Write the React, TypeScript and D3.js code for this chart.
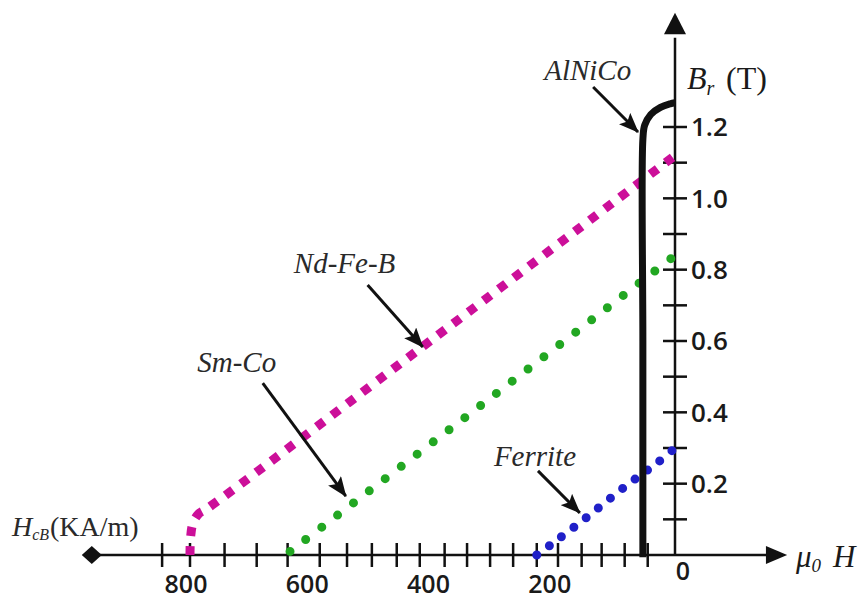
import React, { useEffect, useRef } from 'react';
import * as d3 from 'd3';

// demagnetisation curves: H in kA/m (drawn to the left), B in T
const ndfebH = [800, 799, 795, 786, 772, 400, 0];
const ndfebB = [0, 0.05, 0.09, 0.115, 0.13, 0.605, 1.12];
const smcoH = [635, 320, 0];
const smcoB = [0.01, 0.42, 0.84];
const ferriteH = [228, 200, 150, 80, 28, 0];
const ferriteB = [0, 0.035, 0.1, 0.195, 0.26, 0.3];
const alnicoH = [53, 53, 53, 50, 40, 24, 8, 0];
const alnicoB = [-0.006, 0.6, 1.165, 1.205, 1.235, 1.255, 1.265, 1.268];

// axis ticks
const xTickLabels = [800, 600, 400, 200];
const xMinorTicks = [45, 83, 121, 154, 193, 228, 267, 305, 343, 380, 421, 459, 500, 541, 586, 639, 690, 743, 800, 846];
const yTickLabels = [0.2, 0.4, 0.6, 0.8, 1.0, 1.2];
const yMinorTicks = [0.1, 0.2, 0.3, 0.4, 0.5, 0.6, 0.7, 0.8, 0.9, 1.0, 1.1, 1.2];

// annotations (label + arrow), in data units
const labels = ['Nd-Fe-B', 'Sm-Co', 'Ferrite', 'AlNiCo'];
const labelH = [545, 723, 231, 144];
const labelB = [0.79, 0.513, 0.25, 1.332];
const arrowFromH = [507, 680, 226, 135];
const arrowFromB = [0.757, 0.482, 0.236, 1.312];
const arrowToH = [416, 543, 157, 61];
const arrowToB = [0.583, 0.165, 0.118, 1.186];

const MagnetCurves = () => {
  const svgRef = useRef<SVGSVGElement>(null);

  useEffect(() => {
    const width = 867;
    const height = 602;
    const svg = d3.select(svgRef.current).attr('width', width).attr('height', height);
    svg.selectAll('*').remove();

    // H grows to the left, origin on the right
    const x = d3.scaleLinear().domain([0, 800]).range([675, 190]);
    const y = d3.scaleLinear().domain([0, 1.2]).range([555, 127]);
    const x0 = x(0);
    const y0 = y(0);

    const serif = '"Liberation Serif", "DejaVu Serif", serif';
    const sans = '"Open Sans", "Noto Sans", sans-serif';

    const defs = svg.append('defs');
    defs.append('marker')
      .attr('id', 'head')
      .attr('markerUnits', 'userSpaceOnUse')
      .attr('viewBox', '0 0 20 16')
      .attr('markerWidth', 20)
      .attr('markerHeight', 16)
      .attr('refX', 19)
      .attr('refY', 8)
      .attr('orient', 'auto')
      .append('path')
      .attr('d', 'M0,0 L20,8 L0,16 L4,8 Z')
      .attr('fill', '#111');

    // axes
    svg.append('line')
      .attr('x1', x(962)).attr('x2', x(-170))
      .attr('y1', y0).attr('y2', y0)
      .attr('stroke', '#111').attr('stroke-width', 2.5);
    svg.append('path')
      .attr('d', `M${x(-185)},${y0} L${x(-150)},${y0 - 9} L${x(-150)},${y0 + 9} Z`)
      .attr('fill', '#111');
    svg.append('path')
      .attr('d', `M${x(962) - 10},${y0} L${x(962)},${y0 - 9} L${x(962) + 10},${y0} L${x(962)},${y0 + 9} Z`)
      .attr('fill', '#111');

    svg.append('line')
      .attr('x1', x0).attr('x2', x0)
      .attr('y1', y0).attr('y2', y(1.45))
      .attr('stroke', '#111').attr('stroke-width', 2.5);
    svg.append('path')
      .attr('d', `M${x0},${y(1.52)} L${x0 - 11},${y(1.46)} L${x0 + 11},${y(1.46)} Z`)
      .attr('fill', '#111');

    svg.append('g').selectAll('line')
      .data(xMinorTicks)
      .join('line')
      .attr('x1', d => x(d)).attr('x2', d => x(d))
      .attr('y1', y0 - 12).attr('y2', y0 + 12)
      .attr('stroke', '#111').attr('stroke-width', 2.5);

    svg.append('g').selectAll('line')
      .data(yMinorTicks)
      .join('line')
      .attr('x1', x0 - 12).attr('x2', x0 + 12)
      .attr('y1', d => y(d)).attr('y2', d => y(d))
      .attr('stroke', '#111').attr('stroke-width', 2.5);

    svg.append('g').selectAll('text')
      .data(xTickLabels)
      .join('text')
      .attr('x', d => x(d) - 4)
      .attr('y', 593)
      .attr('text-anchor', 'middle')
      .attr('font-family', sans).attr('font-size', 25).attr('font-weight', 600)
      .attr('fill', '#1a1a1a')
      .text(d => d);
    svg.append('text')
      .attr('x', x0 + 8).attr('y', 580)
      .attr('text-anchor', 'middle')
      .attr('font-family', sans).attr('font-size', 25).attr('font-weight', 600)
      .attr('fill', '#1a1a1a')
      .text('0');

    svg.append('g').selectAll('text')
      .data(yTickLabels)
      .join('text')
      .attr('x', x0 + 16)
      .attr('y', d => y(d))
      .attr('dy', '0.36em')
      .attr('font-family', sans).attr('font-size', 26).attr('font-weight', 600)
      .attr('fill', '#1a1a1a')
      .text(d => d.toFixed(1));

    // axis titles
    const by = svg.append('text')
      .attr('x', 687).attr('y', 89)
      .attr('font-family', serif).attr('font-size', 32).attr('fill', '#1a1a1a');
    by.append('tspan').attr('font-style', 'italic').text('B');
    by.append('tspan').attr('font-style', 'italic').attr('font-size', 20).attr('dy', 6).text('r');
    by.append('tspan').attr('x', 726).attr('dy', -6).text('(T)');

    const mh = svg.append('text')
      .attr('x', 796).attr('y', 567)
      .attr('font-family', serif).attr('font-size', 31).attr('font-style', 'italic').attr('fill', '#1a1a1a');
    mh.append('tspan').text('μ');
    mh.append('tspan').attr('font-size', 19).attr('dy', 5).text('0');
    mh.append('tspan').attr('x', 833).attr('dy', -5).text('H');

    const hc = svg.append('text')
      .attr('x', 12).attr('y', 536)
      .attr('font-family', serif).attr('font-size', 28).attr('fill', '#2a2a2a');
    hc.append('tspan').attr('font-style', 'italic').text('H');
    hc.append('tspan').attr('font-style', 'italic').attr('font-size', 16).attr('dy', 4).text('cB');
    hc.append('tspan').attr('x', 50).attr('dy', -4).text('(KA/m)');

    // curves
    const line = d3.line<[number, number]>()
      .x(d => x(d[0]))
      .y(d => y(d[1]))
      .curve(d3.curveCatmullRom.alpha(0.5));

    const series = [
      { h: smcoH, b: smcoB, color: '#22a722', w: 9, dash: '0 20', cap: 'round' },
      { h: ferriteH, b: ferriteB, color: '#2020c8', w: 9, dash: '0 15.5', cap: 'round' },
      { h: ndfebH, b: ndfebB, color: '#cc0f99', w: 9, dash: '9 10', cap: 'butt' },
      { h: alnicoH, b: alnicoB, color: '#111', w: 7, dash: null, cap: 'butt' },
    ];

    svg.append('g').selectAll('path')
      .data(series)
      .join('path')
      .attr('d', s => line(s.h.map((v, i) => [v, s.b[i]] as [number, number])))
      .attr('fill', 'none')
      .attr('stroke', s => s.color)
      .attr('stroke-width', s => s.w)
      .attr('stroke-linecap', s => s.cap)
      .attr('stroke-dasharray', s => s.dash);

    // annotations
    svg.append('g').selectAll('line')
      .data(labels)
      .join('line')
      .attr('x1', (d, i) => x(arrowFromH[i]))
      .attr('y1', (d, i) => y(arrowFromB[i]))
      .attr('x2', (d, i) => x(arrowToH[i]))
      .attr('y2', (d, i) => y(arrowToB[i]))
      .attr('stroke', '#111')
      .attr('stroke-width', 3)
      .attr('marker-end', 'url(#head)');

    svg.append('g').selectAll('text')
      .data(labels)
      .join('text')
      .attr('x', (d, i) => x(labelH[i]))
      .attr('y', (d, i) => y(labelB[i]))
      .attr('text-anchor', 'middle')
      .attr('font-family', serif).attr('font-size', 29).attr('font-style', 'italic')
      .attr('fill', '#2a2a2a')
      .text(d => d);
  }, []);

  return <svg ref={svgRef} style={{ position: 'absolute', left: 0, top: 0 }}></svg>;
};

export default function App() {
  return <MagnetCurves />;
}
